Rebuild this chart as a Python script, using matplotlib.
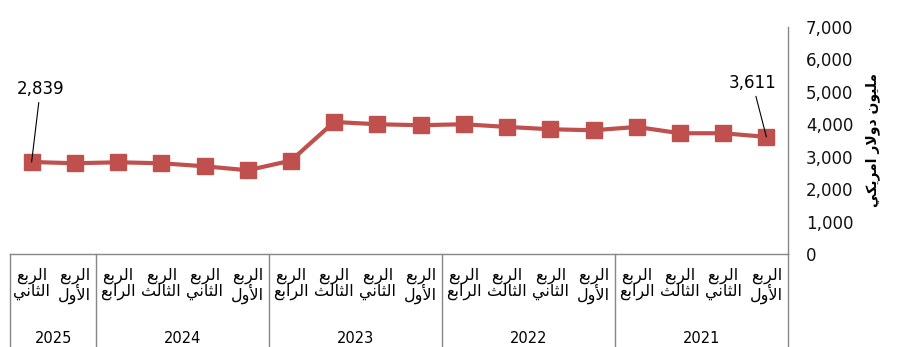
import numpy as np
import matplotlib
matplotlib.use("Agg")
import matplotlib.pyplot as plt
from matplotlib.ticker import FuncFormatter

# quarterly values, index 0 = 2021 Q1 (drawn at the right, axis runs right-to-left)
years = ["2021", "2022", "2023", "2024", "2025"]
quarters_per_year = [4, 4, 4, 4, 2]
quarter_names = ["الأول", "الثاني", "الثالث", "الرابع"]
values = [3611, 3723, 3723, 3917,
          3815, 3846, 3917, 4000,
          3970, 4000, 4070, 2880,
          2585, 2707, 2800, 2830,
          2800, 2839]
y_label = "مليون دولار امريكي"

# --- tiny arabic shaper (presentation forms + visual order), matplotlib has no bidi ---
FORMS = {
    "ا": ("\uFE8D", "\uFE8E", None, None),
    "أ": ("\uFE83", "\uFE84", None, None),
    "ب": ("\uFE8F", "\uFE90", "\uFE91", "\uFE92"),
    "ث": ("\uFE99", "\uFE9A", "\uFE9B", "\uFE9C"),
    "د": ("\uFEA9", "\uFEAA", None, None),
    "ر": ("\uFEAD", "\uFEAE", None, None),
    "ع": ("\uFEC9", "\uFECA", "\uFECB", "\uFECC"),
    "ك": ("\uFED9", "\uFEDA", "\uFEDB", "\uFEDC"),
    "ل": ("\uFEDD", "\uFEDE", "\uFEDF", "\uFEE0"),
    "م": ("\uFEE1", "\uFEE2", "\uFEE3", "\uFEE4"),
    "ن": ("\uFEE5", "\uFEE6", "\uFEE7", "\uFEE8"),
    "و": ("\uFEED", "\uFEEE", None, None),
    "ي": ("\uFEF1", "\uFEF2", "\uFEF3", "\uFEF4"),
}
LAM_ALEF = {"ا": ("\uFEFB", "\uFEFC"), "أ": ("\uFEF7", "\uFEF8")}


def shape(line):
    out = []
    prev_joins = False
    i = 0
    while i < len(line):
        c = line[i]
        if c not in FORMS:
            out.append(c)
            prev_joins = False
            i += 1
            continue
        if c == "ل" and i + 1 < len(line) and line[i + 1] in LAM_ALEF:
            iso, fin = LAM_ALEF[line[i + 1]]
            out.append(fin if prev_joins else iso)
            prev_joins = False
            i += 2
            continue
        f = FORMS[c]
        nxt = line[i + 1] if i + 1 < len(line) else None
        next_ok = f[2] is not None and nxt in FORMS
        if prev_joins and next_ok:
            g = f[3]
        elif prev_joins:
            g = f[1]
        elif next_ok:
            g = f[2]
        else:
            g = f[0]
        out.append(g)
        prev_joins = f[2] is not None
        i += 1
    return "".join(out)


def rtl(text):
    return "\n".join(shape(l)[::-1] for l in text.split("\n"))


plt.rcParams["font.family"] = "DejaVu Sans"

W, H = 899, 347
fig = plt.figure(figsize=(W / 100, H / 100), dpi=100)
ax = fig.add_axes([10 / W, (H - 254.3) / H, (788 - 10) / W, (254.3 - 26.7) / H])

x = np.arange(len(values))
ax.plot(x, values, "-s", color="#C0504D", lw=3, ms=12, mec="#C0504D", zorder=3)

ax.set_xlim(len(values) - 0.5, -0.5)
ax.set_ylim(0, 7000)
ax.set_yticks(range(0, 7001, 1000))
ax.yaxis.set_major_formatter(FuncFormatter(lambda v, p: f"{v:,.0f}"))
ax.yaxis.tick_right()
ax.tick_params(axis="y", length=0, pad=13, labelsize=12, labelcolor="#111111")

gray = "#878787"
for s in ["top", "left"]:
    ax.spines[s].set_visible(False)
for s in ["right", "bottom"]:
    ax.spines[s].set_color(gray)
    ax.spines[s].set_linewidth(1)

# quarter labels
qlabels = []
for n in quarters_per_year:
    for q in range(n):
        qlabels.append(rtl("الربع\n" + quarter_names[q]))
ax.set_xticks(x)
ax.set_xticklabels(qlabels, fontsize=11.5, linespacing=0.95, color="black")
ax.tick_params(axis="x", length=0, pad=10)

# year labels and separators
trans = ax.get_xaxis_transform()
bottom = -(H - 254.3) / (254.3 - 26.7)
start = 0
bounds = [-0.5]
for yr, n in zip(years, quarters_per_year):
    mid = start + (n - 1) / 2
    ax.text(mid, -0.368, yr, transform=trans, ha="center", va="center", fontsize=10.5)
    start += n
    bounds.append(start - 0.5)
for b in bounds:
    ax.plot([b, b], [0, bottom], transform=trans, color=gray, lw=1, clip_on=False)

# data labels for first and last points
lbl = dict(textcoords="offset points", ha="center", va="center", fontsize=12,
           arrowprops=dict(arrowstyle="-", color="black", lw=0.8, shrinkA=1, shrinkB=0))
ax.annotate(f"{values[-1]:,}", xy=(x[-1], values[-1]), xytext=(6.3, 52.3), **lbl)
ax.annotate(f"{values[0]:,}", xy=(x[0], values[0]), xytext=(-10, 38.7), **lbl)

fig.text(873 / W, 1 - 140 / H, rtl(y_label), rotation=90, fontsize=10,
         fontweight="bold", ha="center", va="center")

fig.savefig("out.png", dpi=100)
